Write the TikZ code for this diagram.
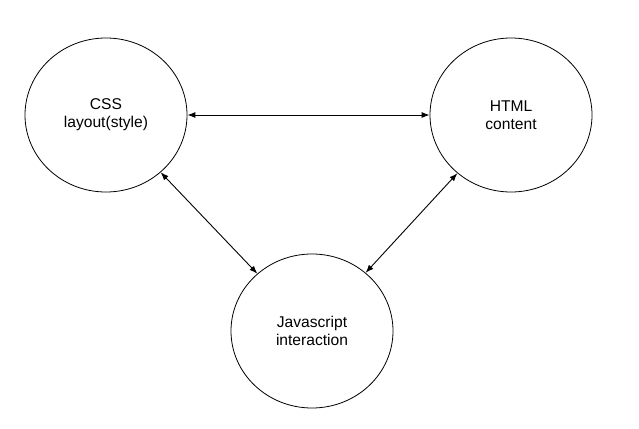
\documentclass[tikz,border=0pt]{standalone}
\usepackage{fontspec}
\setmainfont{Liberation Sans}
\usetikzlibrary{shapes.geometric,arrows.meta}
\begin{document}
\begin{tikzpicture}[x=1pt,y=-1pt,
  topic/.style={draw,ellipse,minimum width=162pt,minimum height=154pt,inner sep=0pt,
    line width=0.8pt,align=center,font=\fontsize{15.6pt}{18pt}\selectfont},
  link/.style={line width=0.9pt,{Latex[length=8pt,width=6pt]}-{Latex[length=8pt,width=6pt]}}]
\useasboundingbox (0,0) rectangle (639,428);
\node[topic] (css) at (106,115) {CSS\\layout(style)};
\node[topic] (html) at (511,115) {HTML\\content};
\node[topic] (js) at (312,331) {Javascript\\interaction};
\draw[link] (css) -- (html);
\draw[link] (css) -- (js);
\draw[link] (html) -- (js);
\end{tikzpicture}
\end{document}
